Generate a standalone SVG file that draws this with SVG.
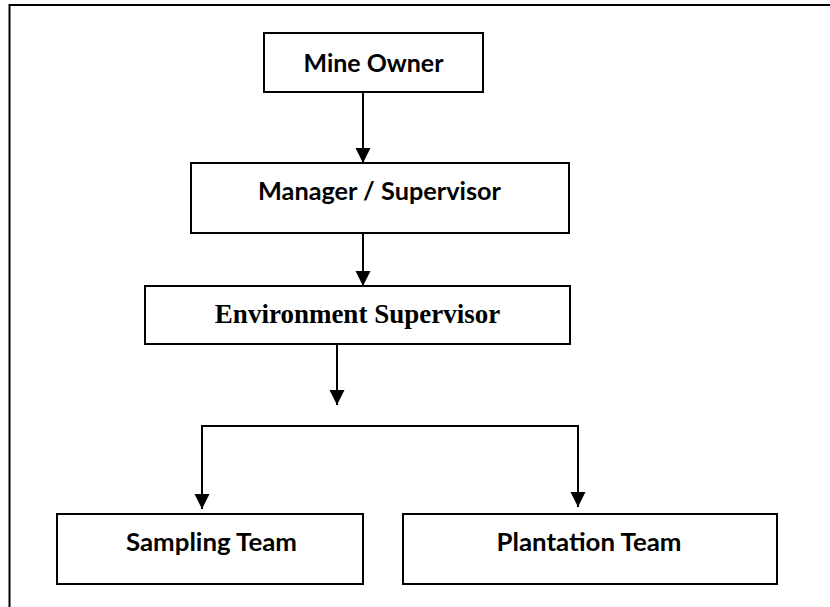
<svg xmlns="http://www.w3.org/2000/svg" width="830" height="607" viewBox="0 0 830 607">
<style>
.box{fill:#fff;stroke:#000;stroke-width:2}
.lbl{font-family:Lato,"Liberation Sans",sans-serif;font-weight:bold;font-size:25px;fill:#000;text-anchor:middle}
.ser{font-family:"Liberation Serif","Times New Roman",serif;font-weight:bold;font-size:27px;fill:#000;text-anchor:middle}
.con{fill:none;stroke:#000;stroke-width:2}
</style>
<defs>
<marker id="ah" markerUnits="userSpaceOnUse" markerWidth="16" markerHeight="16" refX="15" refY="7.5" orient="auto">
<path d="M0,0 L15,7.5 L0,15 Z" fill="#000"/>
</marker>
</defs>
<rect x="0" y="0" width="830" height="607" fill="#fff"/>
<path d="M9.5,607 V5 H830" fill="none" stroke="#000" stroke-width="2"/>
<g id="connectors">
<line class="con" x1="363" y1="92" x2="363" y2="163" marker-end="url(#ah)"/>
<line class="con" x1="363" y1="233" x2="363" y2="286" marker-end="url(#ah)"/>
<line class="con" x1="337" y1="344" x2="337" y2="405" marker-end="url(#ah)"/>
<path class="con" d="M202,509 V426 H578 V507"/>
<line class="con" x1="202" y1="426" x2="202" y2="509" marker-end="url(#ah)"/>
<line class="con" x1="578" y1="426" x2="578" y2="507" marker-end="url(#ah)"/>
</g>
<g id="mine-owner">
<rect class="box" x="264" y="33" width="219" height="59"/>
<text class="lbl" x="373.5" y="72" textLength="140" lengthAdjust="spacingAndGlyphs">Mine Owner</text>
</g>
<g id="manager">
<rect class="box" x="191" y="163" width="378" height="70"/>
<text class="lbl" x="379.5" y="200" textLength="243" lengthAdjust="spacingAndGlyphs">Manager / Supervisor</text>
</g>
<g id="env-supervisor">
<rect class="box" x="145" y="286" width="425" height="58"/>
<text class="ser" x="357.5" y="323">Environment Supervisor</text>
</g>
<g id="sampling">
<rect class="box" x="57" y="514" width="306" height="70"/>
<text class="lbl" x="211.5" y="551" textLength="171" lengthAdjust="spacingAndGlyphs">Sampling Team</text>
</g>
<g id="plantation">
<rect class="box" x="403" y="514" width="374" height="70"/>
<text class="lbl" x="589" y="551" textLength="185" lengthAdjust="spacingAndGlyphs">Plantation Team</text>
</g>
</svg>
